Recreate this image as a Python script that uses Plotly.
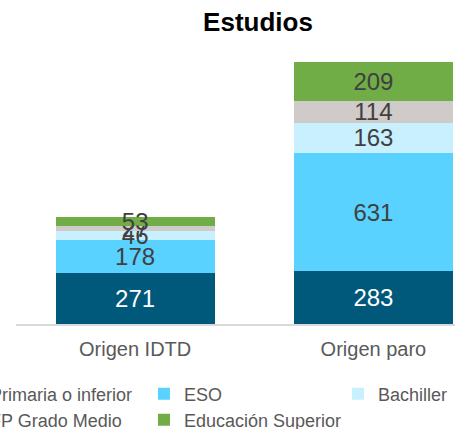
import plotly.graph_objects as go

categories = ["Origen IDTD", "Origen paro"]
series_names = ["Primaria o inferior", "ESO", "Bachiller", "FP Grado Medio", "Educación Superior"]
primaria = [271, 283]
eso = [178, 631]
bachiller = [46, 163]
fp_medio = [27, 114]
superior = [53, 209]

colours = ["#00587A", "#59D2FF", "#C8F0FF", "#D0CAC8", "#70AD47"]
label_colours = ["white", "#404040", "#404040", "#404040", "#404040"]

# one legend per entry so the grid matches the reference (3 columns, 2 rows)
legend_ids = ["legend", "legend2", "legend3", "legend4", "legend5"]
legend_pos = [(-0.1504, -0.2465), (0.2915, -0.2465), (0.7334, -0.2465),
              (-0.1504, -0.338), (0.2915, -0.338)]

fig = go.Figure()
for name, vals, col, lcol, leg in zip(series_names, [primaria, eso, bachiller, fp_medio, superior],
                                      colours, label_colours, legend_ids):
    fig.add_trace(go.Bar(
        x=[0, 1], y=vals, name=name, width=0.668,
        marker=dict(color=col, line=dict(width=0)),
        text=[str(v) for v in vals], textposition="inside", insidetextanchor="middle",
        textangle=0, textfont=dict(color=lcol, size=24, family="Liberation Sans, Arial"),
        legend=leg,
    ))

legend_font = dict(size=18, color="#595959", family="Liberation Sans, Arial")
legends = {}
for leg, (lx, ly) in zip(legend_ids, legend_pos):
    legends[leg] = dict(x=lx, y=ly, xanchor="left", yanchor="middle", font=legend_font,
                        bgcolor="rgba(0,0,0,0)", itemclick=False)

fig.update_layout(
    width=455, height=429,
    margin=dict(l=16, r=0, t=40, b=105, autoexpand=False),
    barmode="stack",
    plot_bgcolor="white", paper_bgcolor="white",
    title=dict(text="<b>Estudios</b>", x=258 / 455, xref="container", xanchor="center",
               y=1 - 22 / 429, yref="container", yanchor="middle",
               font=dict(size=26, color="black", family="Liberation Sans, Arial")),
    xaxis=dict(range=[-0.5, (455 - 135.5) / 238], tickvals=[0, 1], ticktext=categories,
               showgrid=False, zeroline=False, showline=True, linecolor="#D9D9D9", linewidth=1.5,
               ticks="", ticklabelstandoff=6,
               tickfont=dict(size=20, color="#595959", family="Liberation Sans, Arial")),
    yaxis=dict(range=[0, 1519], visible=False),
    uniformtext=dict(mode="show", minsize=24),
    showlegend=True,
    **legends,
)

# drop the page's default body margin so the figure sits at the window corner
fig.write_html("out.html", config={"displayModeBar": False},
               post_script="document.body.style.margin='0';")
